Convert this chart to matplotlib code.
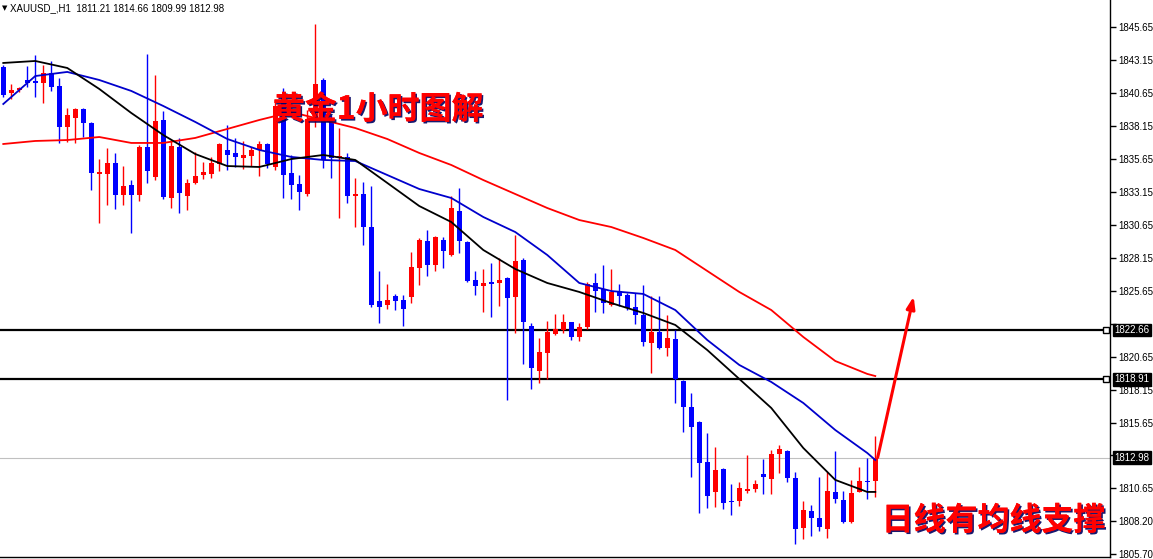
import matplotlib.pyplot as plt
import matplotlib.patheffects as pe

# XAUUSD H1 candles (open, high, low, close)
opens = [1842.58, 1840.61, 1840.84, 1841.60, 1841.52, 1841.37, 1842.13, 1841.15, 1838.04, 1838.72,
         1839.40, 1838.34, 1834.48, 1834.48, 1835.31, 1832.89, 1833.65, 1832.89, 1836.52, 1834.25,
         1838.57, 1832.66, 1836.52, 1832.81, 1833.80, 1834.40, 1834.48, 1835.24, 1836.30, 1836.07,
         1835.69, 1835.84, 1836.30, 1836.75, 1835.01, 1840.31, 1834.55, 1833.72, 1832.96, 1838.57,
         1841.60, 1838.42, 1835.69, 1835.77, 1832.81, 1832.96, 1830.46, 1824.86, 1824.55, 1825.24,
         1824.93, 1825.16, 1827.36, 1829.40, 1827.58, 1829.48, 1828.34, 1831.67, 1829.33, 1826.45,
         1825.99, 1826.22, 1826.22, 1826.60, 1825.16, 1827.96, 1822.96, 1819.55, 1820.92, 1822.36,
         1822.66, 1823.27, 1822.13, 1822.89, 1826.22, 1825.77, 1824.55, 1825.61, 1825.31, 1824.40,
         1823.80, 1821.67, 1822.51, 1821.30, 1821.98, 1818.80, 1816.83, 1815.69, 1812.66, 1810.39,
         1812.13, 1809.63, 1809.71, 1810.46, 1810.61, 1811.75, 1811.37, 1813.27, 1813.50, 1811.45,
         1807.66, 1808.95, 1808.42, 1807.58, 1810.39, 1809.78, 1808.11, 1810.39, 1811.15, 1811.21]
highs = [1842.74, 1841.30, 1841.07, 1842.66, 1843.49, 1842.74, 1843.04, 1841.75, 1839.48, 1839.48,
         1839.45, 1838.42, 1835.61, 1836.45, 1836.07, 1835.08, 1834.02, 1836.67, 1843.57, 1841.98,
         1839.25, 1837.05, 1837.21, 1834.10, 1836.15, 1835.39, 1835.77, 1836.83, 1838.19, 1837.21,
         1836.98, 1836.52, 1836.98, 1836.83, 1840.08, 1840.99, 1835.92, 1834.40, 1839.33, 1845.84,
         1841.75, 1838.95, 1837.96, 1836.07, 1834.18, 1833.87, 1833.57, 1827.13, 1826.14, 1825.39,
         1825.31, 1828.57, 1829.63, 1830.24, 1829.75, 1829.71, 1832.81, 1833.42, 1829.40, 1827.13,
         1827.28, 1827.74, 1828.12, 1826.65, 1829.86, 1828.12, 1823.19, 1822.05, 1823.34, 1823.87,
         1823.87, 1823.30, 1823.19, 1826.30, 1826.98, 1827.58, 1827.28, 1826.14, 1825.46, 1825.46,
         1826.07, 1825.24, 1825.24, 1823.80, 1822.66, 1818.85, 1817.89, 1815.75, 1814.86, 1813.80,
         1812.18, 1811.00, 1811.15, 1813.19, 1811.30, 1812.89, 1813.57, 1813.95, 1813.55, 1811.90,
         1809.71, 1809.40, 1811.52, 1811.90, 1813.50, 1810.46, 1811.30, 1812.28, 1812.96, 1814.66]
lows = [1840.31, 1840.16, 1840.69, 1841.07, 1840.31, 1839.86, 1840.77, 1836.82, 1836.90, 1836.82,
        1837.28, 1833.27, 1830.77, 1832.13, 1831.83, 1832.13, 1830.01, 1832.43, 1833.80, 1834.02,
        1832.58, 1831.90, 1831.52, 1831.75, 1833.72, 1834.10, 1834.18, 1834.71, 1834.78, 1835.01,
        1834.86, 1835.08, 1834.33, 1834.93, 1834.78, 1832.66, 1832.58, 1831.75, 1832.81, 1838.04,
        1834.93, 1834.18, 1831.15, 1832.28, 1830.46, 1829.10, 1824.40, 1823.19, 1824.25, 1824.17,
        1822.96, 1824.70, 1826.07, 1826.75, 1827.13, 1827.36, 1828.27, 1828.49, 1826.30, 1825.31,
        1824.02, 1823.64, 1824.48, 1817.36, 1822.43, 1820.08, 1818.19, 1818.65, 1818.95, 1822.28,
        1822.43, 1821.90, 1821.83, 1822.74, 1824.02, 1823.95, 1824.48, 1824.48, 1824.17, 1823.11,
        1821.45, 1819.40, 1821.25, 1820.69, 1817.13, 1814.93, 1811.52, 1808.80, 1809.17, 1809.25,
        1809.10, 1808.64, 1809.33, 1810.31, 1810.39, 1810.24, 1810.24, 1811.83, 1811.15, 1806.45,
        1806.83, 1807.05, 1807.43, 1806.90, 1809.55, 1808.04, 1808.04, 1810.35, 1809.86, 1809.99]
closes = [1840.46, 1840.84, 1840.99, 1841.37, 1841.37, 1842.13, 1841.07, 1838.04, 1838.95, 1839.40,
          1838.34, 1834.55, 1834.63, 1835.31, 1832.89, 1833.57, 1832.89, 1836.52, 1834.71, 1838.49,
          1832.74, 1836.60, 1833.04, 1833.80, 1834.33, 1834.63, 1835.31, 1836.75, 1835.92, 1835.77,
          1835.92, 1836.30, 1836.75, 1835.24, 1839.63, 1834.40, 1833.65, 1833.11, 1838.64, 1841.30,
          1835.54, 1835.69, 1835.84, 1832.81, 1832.96, 1830.46, 1824.55, 1824.40, 1824.93, 1824.86,
          1824.25, 1827.43, 1829.48, 1827.58, 1829.71, 1828.64, 1831.90, 1829.40, 1826.37, 1825.99,
          1826.22, 1826.18, 1826.45, 1825.08, 1827.89, 1823.27, 1819.78, 1821.01, 1822.51, 1822.74,
          1823.27, 1822.13, 1822.89, 1826.14, 1825.61, 1824.70, 1825.54, 1825.24, 1824.33, 1823.80,
          1821.75, 1822.51, 1821.30, 1822.05, 1818.95, 1816.83, 1815.31, 1812.58, 1810.08, 1812.05,
          1809.55, 1809.60, 1810.69, 1810.61, 1811.00, 1811.52, 1813.27, 1813.65, 1811.45, 1807.58,
          1809.02, 1808.42, 1807.74, 1810.46, 1809.86, 1808.11, 1810.31, 1811.22, 1811.12, 1812.98]

# moving average lines, read every 4 bars
ma_idx = [0, 4, 8, 12, 16, 20, 24, 28, 32, 36, 40, 44, 48, 52, 56, 60, 64, 68, 72, 76,
          80, 84, 88, 92, 96, 100, 104, 108, 109]
ma_black = [1842.89, 1843.04, 1842.51, 1840.92, 1839.10, 1837.43, 1835.99, 1835.08, 1835.01, 1835.61,
            1835.92, 1835.54, 1833.80, 1832.05, 1830.84, 1828.72, 1827.28, 1826.22, 1825.54, 1824.70,
            1823.95, 1823.04, 1821.14, 1818.95, 1816.75, 1813.72, 1811.30, 1810.39, 1810.39]
ma_blue = [1839.78, 1841.90, 1842.21, 1841.60, 1840.77, 1839.63, 1838.42, 1837.13, 1836.30, 1835.77,
           1835.54, 1835.46, 1834.40, 1833.34, 1832.66, 1831.22, 1830.08, 1828.34, 1826.22, 1825.61,
           1825.39, 1824.17, 1821.90, 1820.01, 1818.72, 1817.13, 1815.08, 1813.34, 1812.81]
ma_red = [1836.75, 1836.98, 1837.05, 1837.28, 1836.83, 1836.83, 1837.21, 1837.89, 1838.57, 1839.17,
          1838.57, 1837.96, 1837.13, 1836.07, 1835.16, 1834.02, 1832.96, 1831.90, 1830.99, 1830.46,
          1829.63, 1828.72, 1827.13, 1825.54, 1824.17, 1822.13, 1820.31, 1819.33, 1819.17]

levels = [1822.66, 1818.91]
last_price = 1812.98
tick_vals = [1845.65, 1843.15, 1840.65, 1838.15, 1835.65, 1833.15, 1830.65, 1828.15, 1825.65,
             1823.15, 1820.65, 1818.15, 1815.65, 1813.15, 1810.65, 1808.20, 1805.70]
# labels hidden behind the price boxes on the reference
hidden_labels = [1823.15, 1813.15]

fig = plt.figure(figsize=(11.53, 5.59), dpi=100)
ax = fig.add_axes([0, 2 / 559, 1110 / 1153, 557 / 559])

n = len(opens)
xs = list(range(n))
up = '#ff0000'
down = '#0000ff'
cols = [up if c >= o else down for o, c in zip(opens, closes)]
ax.vlines(xs, lows, highs, colors=cols, linewidth=1.0, zorder=3)
bottoms = [min(o, c) for o, c in zip(opens, closes)]
heights = [max(abs(c - o), 0.09) for o, c in zip(opens, closes)]
ax.bar(xs, heights, bottom=bottoms, width=0.65, color=cols, linewidth=0, zorder=4)

ax.plot(ma_idx, ma_red, color='#ff0000', lw=1.3, zorder=5)
ax.plot(ma_idx, ma_blue, color='#0000cc', lw=1.3, zorder=5)
ax.plot(ma_idx, ma_black, color='#000000', lw=1.3, zorder=5)

for lv in levels:
    ax.axhline(lv, color='black', lw=1.6, zorder=2)
    ax.plot([0.996], [lv], marker='s', ms=4, mfc='white', mec='black', mew=1,
            transform=ax.get_yaxis_transform(), clip_on=False, zorder=6)
ax.axhline(last_price, color='#c0c0c0', lw=0.8, zorder=1)

# arrow
ax.annotate('', xy=(113.8, 1825.2), xytext=(109.3, 1813.0),
            arrowprops=dict(arrowstyle='-|>,head_length=0.7,head_width=0.25',
                            color='#ff0000', lw=2.2, shrinkA=0, shrinkB=0), zorder=7)

shadow = [pe.withSimplePatchShadow(offset=(1.2, -1.2), shadow_rgbFace='#000060', alpha=0.9), pe.Normal()]
ax.text(33.7, 1839.33, '黄金1小时图解', color='#ff0000', fontsize=23, fontweight='bold',
        family=['Noto Sans CJK SC', 'DejaVu Sans'], ha='left', va='center',
        path_effects=shadow, zorder=8)
ax.text(109.8, 1808.19, '日线有均线支撑', color='#ff0000', fontsize=23, fontweight='bold',
        family=['Noto Sans CJK SC', 'DejaVu Sans'], ha='left', va='center',
        path_effects=shadow, zorder=8, clip_on=False)

ax.set_xlim(-0.41, 138.34)
ax.set_ylim(1805.46, 1847.66)

for s in ['left', 'top']:
    ax.spines[s].set_visible(False)
ax.spines['right'].set_linewidth(1.0)
ax.spines['bottom'].set_linewidth(1.0)
ax.set_xticks([])
ax.yaxis.tick_right()
ax.set_yticks(tick_vals)
ax.set_yticklabels(['' if v in hidden_labels else '%.2f' % v for v in tick_vals],
                   family='Liberation Sans', fontsize=7)
ax.tick_params(axis='y', direction='out', length=4, width=1, pad=2)

for lv in levels + [last_price]:
    ax.text(1.004, lv, '%.2f' % lv, transform=ax.get_yaxis_transform(), color='white',
            fontsize=7, family='Liberation Sans', ha='left', va='center', clip_on=False,
            bbox=dict(boxstyle='square,pad=0.15', fc='black', ec='black'), zorder=9)

fig.text(0.002, 0.99, '▼', fontsize=5, va='top', ha='left', color='black')
fig.text(10 / 1153, 0.995, 'XAUUSD_,H1  1811.21 1814.66 1809.99 1812.98', fontsize=7,
         family='Liberation Sans', va='top', ha='left', color='black')

fig.savefig('out.png', dpi=100)
